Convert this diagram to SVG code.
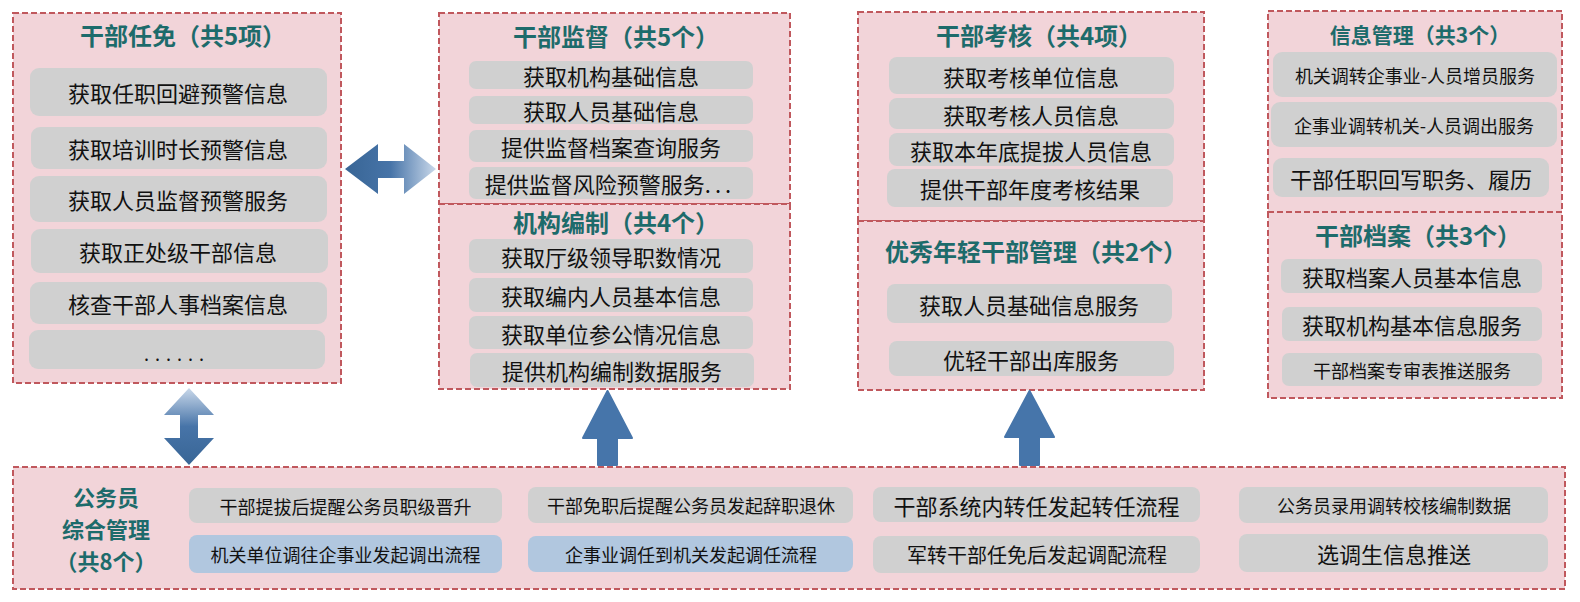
<svg xmlns="http://www.w3.org/2000/svg" width="1580" height="602" viewBox="0 0 1580 602">
<style>
.panel{fill:#f2d4d9;stroke:#c0585d;stroke-width:2;stroke-dasharray:6 3}
.item{fill:#d0d0d0}
.blue{fill:#b1c7df}
text{font-family:"Noto Sans CJK SC","Noto Sans",sans-serif;text-anchor:middle;dominant-baseline:central}
.t{fill:#111}
.h{fill:#1d6b6b;font-weight:bold;font-size:24px}
.f22{font-size:22px}.f20{font-size:20px}.f18{font-size:18px}
.solid{fill:#4675aa;stroke:#4675aa;stroke-width:2;stroke-linejoin:round}
</style>
<defs>
<linearGradient id="gh" gradientUnits="userSpaceOnUse" x1="345" y1="0" x2="436" y2="0">
<stop offset="0" stop-color="#386595"/><stop offset="0.5" stop-color="#4774a8"/><stop offset="1" stop-color="#c9d8ea"/>
</linearGradient>
<linearGradient id="gv" gradientUnits="userSpaceOnUse" x1="0" y1="388" x2="0" y2="465">
<stop offset="0" stop-color="#c9d8ea"/><stop offset="0.5" stop-color="#4774a8"/><stop offset="1" stop-color="#386595"/>
</linearGradient>
</defs>
<rect width="1580" height="602" fill="#fff"/>

<g id="renmian">
<rect class="panel" x="13" y="13" width="328" height="370"/>
<text class="h" x="183" y="34">干部任免（共5项）</text>
<rect class="item" x="30" y="68" width="297" height="48" rx="9"/><text class="t f22" x="178" y="92">获取任职回避预警信息</text>
<rect class="item" x="31" y="127" width="296" height="42" rx="9"/><text class="t f22" x="178" y="148">获取培训时长预警信息</text>
<rect class="item" x="30" y="176" width="297" height="46" rx="9"/><text class="t f22" x="178" y="199">获取人员监督预警服务</text>
<rect class="item" x="31" y="229" width="297" height="44" rx="9"/><text class="t f22" x="178" y="251">获取正处级干部信息</text>
<rect class="item" x="30" y="282" width="297" height="42" rx="9"/><text class="t f22" x="178" y="303">核查干部人事档案信息</text>
<rect class="item" x="29" y="330" width="296" height="39" rx="9"/><text class="t f18" x="177" y="353" letter-spacing="6">......</text>
</g>

<g id="jiandu">
<rect class="panel" x="439" y="13" width="351" height="191"/>
<text class="h" x="616" y="35">干部监督（共5个）</text>
<rect class="item" x="469" y="61" width="284" height="28" rx="7"/><text class="t f22" x="611" y="75">获取机构基础信息</text>
<rect class="item" x="469" y="96" width="284" height="28" rx="7"/><text class="t f22" x="611" y="110">获取人员基础信息</text>
<rect class="item" x="469" y="130" width="284" height="32" rx="7"/><text class="t f22" x="611" y="146">提供监督档案查询服务</text>
<rect class="item" x="469" y="167" width="284" height="32" rx="7"/><text class="t f22" x="610" y="183">提供监督风险预警服务<tspan letter-spacing="4">...</tspan></text>
</g>

<g id="bianzhi">
<rect class="panel" x="439" y="204" width="351" height="185"/>
<text class="h" x="616" y="221">机构编制（共4个）</text>
<rect class="item" x="469" y="239" width="284" height="34" rx="7"/><text class="t f22" x="611" y="256">获取厅级领导职数情况</text>
<rect class="item" x="469" y="278" width="284" height="34" rx="7"/><text class="t f22" x="611" y="295">获取编内人员基本信息</text>
<rect class="item" x="469" y="316" width="284" height="33" rx="7"/><text class="t f22" x="611" y="332.5">获取单位参公情况信息</text>
<rect class="item" x="470" y="353" width="284" height="34" rx="7"/><text class="t f22" x="612" y="370">提供机构编制数据服务</text>
</g>

<g id="kaohe">
<rect class="panel" x="858" y="12" width="346" height="209"/>
<text class="h" x="1039" y="34">干部考核（共4项）</text>
<rect class="item" x="889" y="57" width="285" height="37" rx="8"/><text class="t f22" x="1031" y="75.5">获取考核单位信息</text>
<rect class="item" x="889" y="98" width="285" height="31" rx="8"/><text class="t f22" x="1031" y="113.5">获取考核人员信息</text>
<rect class="item" x="889" y="133" width="285" height="33" rx="8"/><text class="t f22" x="1031" y="149.5">获取本年底提拔人员信息</text>
<rect class="item" x="887" y="169" width="286" height="38" rx="8"/><text class="t f22" x="1030" y="188">提供干部年度考核结果</text>
</g>

<g id="youxiu">
<rect class="panel" x="858" y="221" width="346" height="169"/>
<text class="h" x="1036" y="250">优秀年轻干部管理（共2个）</text>
<rect class="item" x="887" y="284" width="285" height="39" rx="8"/><text class="t f22" x="1029" y="303.5">获取人员基础信息服务</text>
<rect class="item" x="889" y="341" width="285" height="35" rx="8"/><text class="t f22" x="1031" y="358.5">优轻干部出库服务</text>
</g>

<g id="xinxi">
<rect class="panel" x="1268" y="11" width="294" height="201"/>
<text class="h" x="1420" y="34" style="font-size:21px">信息管理（共3个）</text>
<rect class="item" x="1273" y="52" width="284" height="45" rx="9"/><text class="t f18" x="1415" y="74.5">机关调转企事业-人员增员服务</text>
<rect class="item" x="1271" y="102" width="286" height="45" rx="9"/><text class="t f18" x="1414" y="124.5">企事业调转机关-人员调出服务</text>
<rect class="item" x="1273" y="158" width="276" height="39" rx="9"/><text class="t f22" x="1411" y="177.5">干部任职回写职务、履历</text>
</g>

<g id="dangan">
<rect class="panel" x="1268" y="212" width="294" height="186"/>
<text class="h" x="1418" y="234">干部档案（共3个）</text>
<rect class="item" x="1281" y="259" width="261" height="34" rx="7"/><text class="t f22" x="1412" y="276">获取档案人员基本信息</text>
<rect class="item" x="1282" y="307" width="260" height="34" rx="7"/><text class="t f22" x="1412" y="324">获取机构基本信息服务</text>
<rect class="item" x="1282" y="353" width="260" height="33" rx="7"/><text class="t f18" x="1412" y="369.5">干部档案专审表推送服务</text>
</g>

<g id="gongwuyuan">
<rect class="panel" x="13" y="467" width="1552" height="122"/>
<text class="h" x="106" y="496" style="font-size:22px"><tspan x="106" y="496">公务员</tspan><tspan x="106" y="528">综合管理</tspan><tspan x="106" y="560">（共8个）</tspan></text>
<rect class="item" x="189" y="488" width="313" height="35" rx="8"/><text class="t f18" x="345.5" y="505.5">干部提拔后提醒公务员职级晋升</text>
<rect class="blue" x="189" y="535" width="313" height="38" rx="8"/><text class="t f18" x="345.5" y="554">机关单位调往企事业发起调出流程</text>
<rect class="item" x="528" y="487" width="325" height="36" rx="8"/><text class="t f18" x="691" y="505">干部免职后提醒公务员发起辞职退休</text>
<rect class="blue" x="528" y="536" width="325" height="36" rx="8"/><text class="t f18" x="691" y="554">企事业调任到机关发起调任流程</text>
<rect class="item" x="873" y="487" width="327" height="35" rx="8"/><text class="t f22" x="1036.5" y="504.5">干部系统内转任发起转任流程</text>
<rect class="item" x="873" y="536" width="327" height="37" rx="8"/><text class="t f20" x="1037" y="554.5">军转干部任免后发起调配流程</text>
<rect class="item" x="1239" y="487" width="309" height="36" rx="8"/><text class="t f18" x="1394" y="505">公务员录用调转校核编制数据</text>
<rect class="item" x="1239" y="534" width="309" height="38" rx="8"/><text class="t f22" x="1394" y="553">选调生信息推送</text>
</g>

<g id="connectors">
<path fill="url(#gh)" d="M345,169 L378,144 L378,161 L404,161 L404,144 L436,169 L404,194 L404,178 L378,178 L378,194 Z"/>
<path fill="url(#gv)" d="M189,388 L214,415 L198,415 L198,438 L214,438 L189,465 L164,438 L180,438 L180,415 L164,415 Z"/>
<path class="solid" d="M607.5,391 L632,438 L617,438 L617,465 L598,465 L598,438 L583,438 Z"/>
<path class="solid" d="M1029.5,391 L1054,437 L1039,437 L1039,465 L1020,465 L1020,437 L1005,437 Z"/>
</g>
</svg>
